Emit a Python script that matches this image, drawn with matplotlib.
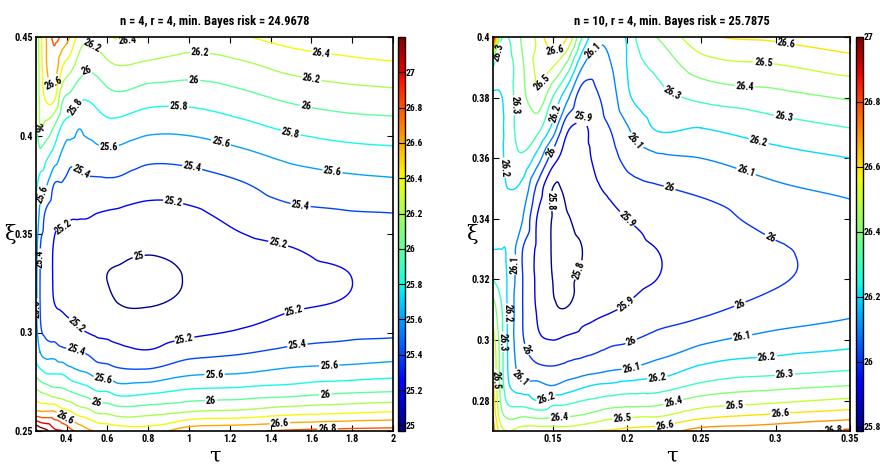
import os
import dataclasses
import numpy as np
import matplotlib
matplotlib.use('Agg')
import matplotlib.pyplot as plt
import matplotlib.tri as mtri
from matplotlib import cm, colors
from matplotlib import font_manager as fm
from matplotlib.path import Path

# narrowest bold sans face that is installed (the reference uses a condensed bold font)
def pick_condensed():
    files = {os.path.splitext(os.path.basename(f.fname))[0]: f for f in fm.fontManager.ttflist}
    for key, scale in [('NotoSans-ExtraCondensedBold', 1.0), ('NotoSans-CondensedBold', 0.88),
                       ('RobotoCondensed-Bold', 0.9), ('LiberationSansNarrow-Bold', 0.88),
                       ('NotoSans-SemiCondensedBold', 0.82)]:
        if key in files:
            fm.fontManager.ttflist.append(dataclasses.replace(files[key], name='PlotCondensed'))
            return 'PlotCondensed', scale
    return 'DejaVu Sans', 0.75

fam, fs = pick_condensed()
plt.rcParams['font.family'] = [fam, 'DejaVu Sans']
plt.rcParams['font.weight'] = 'bold'
plt.rcParams['axes.linewidth'] = 1.2

# ---- left panel: n = 4, r = 4 ----
tau_a = [0.25, 0.27, 0.30, 0.34, 0.38, 0.42, 0.46, 0.50, 0.55, 0.60, 0.65, 0.80, 1.00, 1.25, 1.50, 1.75, 2.00]
xi_a = [0.25, 0.26, 0.27, 0.28, 0.29, 0.30, 0.315, 0.33, 0.345, 0.36, 0.375, 0.39, 0.405, 0.42, 0.435, 0.45]
# one list per tau value, risk along xi (bottom -> top)
risk_a = [
    [27.45, 26.62, 26.25, 25.92, 25.75, 25.68, 25.66, 25.66, 25.70, 25.78, 25.85, 25.93, 25.97, 25.98, 25.98, 25.98],
    [27.35, 26.60, 26.20, 25.85, 25.60, 25.45, 25.40, 25.40, 25.42, 25.55, 25.70, 25.95, 26.20, 26.25, 26.28, 26.30],
    [27.25, 26.60, 26.15, 25.78, 25.52, 25.36, 25.31, 25.30, 25.31, 25.36, 25.62, 25.85, 26.15, 26.45, 26.58, 26.60],
    [27.05, 26.60, 26.08, 25.77, 25.52, 25.32, 25.20, 25.18, 25.19, 25.26, 25.39, 25.72, 26.00, 26.45, 26.72, 26.85],
    [27.00, 26.47, 26.06, 25.76, 25.45, 25.30, 25.17, 25.13, 25.16, 25.25, 25.38, 25.56, 25.78, 26.05, 26.40, 26.75],
    [26.85, 26.40, 26.00, 25.67, 25.45, 25.27, 25.14, 25.09, 25.13, 25.22, 25.32, 25.47, 25.72, 25.96, 26.26, 26.58],
    [26.75, 26.30, 25.95, 25.62, 25.41, 25.23, 25.11, 25.07, 25.11, 25.22, 25.34, 25.47, 25.62, 25.85, 26.11, 26.32],
    [26.65, 26.26, 25.90, 25.59, 25.38, 25.20, 25.09, 25.05, 25.09, 25.22, 25.35, 25.50, 25.67, 25.83, 26.03, 26.24],
    [26.58, 26.16, 25.81, 25.51, 25.31, 25.17, 25.06, 25.03, 25.09, 25.195, 25.35, 25.54, 25.705, 25.875, 26.07, 26.30],
    [26.55, 26.15, 25.80, 25.49, 25.295, 25.16, 25.04, 25.00, 25.06, 25.18, 25.356, 25.546, 25.744, 25.94, 26.15, 26.37],
    [26.52, 26.10, 25.73, 25.45, 25.26, 25.14, 25.00, 24.985, 25.07, 25.17, 25.35, 25.536, 25.74, 25.966, 26.19, 26.42],
    [26.50, 26.12, 25.76, 25.44, 25.22, 25.10, 24.99, 24.97, 25.03, 25.14, 25.28, 25.46, 25.67, 25.89, 26.15, 26.39],
    [26.72, 26.19, 25.84, 25.55, 25.33, 25.16, 25.03, 25.01, 25.04, 25.16, 25.30, 25.47, 25.67, 25.88, 26.10, 26.31],
    [26.77, 26.23, 25.87, 25.58, 25.38, 25.22, 25.12, 25.10, 25.16, 25.27, 25.38, 25.55, 25.75, 25.95, 26.15, 26.38],
    [26.83, 26.31, 25.91, 25.65, 25.45, 25.31, 25.17, 25.145, 25.21, 25.35, 25.49, 25.65, 25.85, 26.05, 26.26, 26.48],
    [26.86, 26.35, 25.97, 25.68, 25.48, 25.35, 25.21, 25.19, 25.28, 25.38, 25.53, 25.71, 25.91, 26.11, 26.32, 26.53],
    [26.88, 26.39, 26.00, 25.72, 25.51, 25.37, 25.29, 25.27, 25.31, 25.395, 25.556, 25.74, 25.935, 26.14, 26.36, 26.58],
]
min_a = 24.9678

# ---- right panel: n = 10, r = 4 ----
tau_b = [0.11, 0.115, 0.12, 0.13, 0.14, 0.15, 0.16, 0.17, 0.18, 0.19, 0.20, 0.21, 0.22, 0.25, 0.30, 0.35]
xi_b = [0.27, 0.275, 0.28, 0.285, 0.29, 0.30, 0.31, 0.32, 0.33, 0.34, 0.35, 0.36, 0.37, 0.38, 0.39, 0.40]
risk_b = [
    [26.75, 26.70, 26.66, 26.63, 26.60, 26.55, 26.45, 26.30, 26.20, 26.17, 26.16, 26.15, 26.16, 26.18, 26.30, 26.95],
    [26.55, 26.45, 26.40, 26.38, 26.37, 26.36, 26.33, 26.25, 26.20, 26.18, 26.17, 26.17, 26.17, 26.19, 26.26, 26.35],
    [26.50, 26.38, 26.28, 26.22, 26.20, 26.19, 26.19, 26.19, 26.19, 26.195, 26.20, 26.24, 26.25, 26.25, 26.26, 26.30],
    [26.55, 26.39, 26.25, 26.14, 26.06, 26.01, 26.00, 26.00, 26.00, 26.10, 26.17, 26.28, 26.34, 26.37, 26.39, 26.42],
    [26.56, 26.37, 26.20, 26.13, 26.03, 25.92, 25.89, 25.88, 25.88, 25.89, 25.97, 26.15, 26.33, 26.47, 26.52, 26.52],
    [26.56, 26.38, 26.26, 26.10, 26.02, 25.90, 25.815, 25.80, 25.795, 25.797, 25.80, 25.95, 26.17, 26.30, 26.50, 26.70],
    [26.55, 26.39, 26.27, 26.14, 26.04, 25.92, 25.805, 25.795, 25.79, 25.797, 25.82, 25.86, 25.92, 26.12, 26.35, 26.60],
    [26.57, 26.41, 26.30, 26.18, 26.06, 25.94, 25.86, 25.81, 25.80, 25.82, 25.84, 25.86, 25.88, 25.94, 26.10, 26.30],
    [26.60, 26.44, 26.32, 26.21, 26.08, 25.96, 25.88, 25.845, 25.84, 25.86, 25.89, 25.93, 25.96, 25.99, 26.05, 26.13],
    [26.61, 26.47, 26.34, 26.22, 26.10, 25.98, 25.895, 25.86, 25.855, 25.88, 25.92, 25.97, 26.01, 26.06, 26.10, 26.14],
    [26.63, 26.48, 26.35, 26.24, 26.11, 25.99, 25.91, 25.875, 25.87, 25.90, 25.96, 26.03, 26.09, 26.18, 26.20, 26.21],
    [26.64, 26.49, 26.35, 26.25, 26.13, 26.01, 25.93, 25.89, 25.885, 25.92, 25.98, 26.06, 26.16, 26.23, 26.28, 26.36],
    [26.65, 26.49, 26.36, 26.25, 26.15, 26.03, 25.95, 25.90, 25.90, 25.95, 25.99, 26.08, 26.21, 26.26, 26.32, 26.40],
    [26.74, 26.57, 26.44, 26.32, 26.23, 26.08, 25.98, 25.95, 25.94, 25.96, 26.02, 26.10, 26.20, 26.32, 26.445, 26.57],
    [26.77, 26.62, 26.48, 26.37, 26.27, 26.136, 26.04, 25.99, 25.99, 26.037, 26.084, 26.16, 26.257, 26.365, 26.486, 26.62],
    [26.82, 26.66, 26.52, 26.40, 26.30, 26.167, 26.08, 26.04, 26.03, 26.07, 26.12, 26.20, 26.30, 26.41, 26.54, 26.67],
]
min_b = 25.7875


def smooth_field(tau, xi, risk):
    T, X = np.meshgrid(tau, xi)
    Z = np.array(risk).T.ravel()
    t0, t1, x0, x1 = tau[0], tau[-1], xi[0], xi[-1]
    tri = mtri.Triangulation((T.ravel() - t0) / (t1 - t0), (X.ravel() - x0) / (x1 - x0))
    interp = mtri.CubicTriInterpolator(tri, Z, kind='geom')
    tri_f, z_f = mtri.UniformTriRefiner(tri).refine_field(Z, triinterpolator=interp, subdiv=4)
    tri_d = mtri.Triangulation(t0 + tri_f.x * (t1 - t0), x0 + tri_f.y * (x1 - x0), tri_f.triangles)
    return tri_d, z_f


def label_spots(ax, cs, spacing=115, min_len=30, min_gap=24):
    # spread labels along every contour line, like matlab's clabel spacing
    spots, placed = [], []
    for path in cs.get_paths():
        v, c = path.vertices, path.codes
        if len(v) == 0:
            continue
        parts = [v] if c is None else np.split(v, np.flatnonzero(c == Path.MOVETO)[1:])
        for seg in parts:
            if len(seg) < 2:
                continue
            p = ax.transData.transform(seg)
            d = np.r_[0, np.cumsum(np.hypot(*np.diff(p, axis=0).T))]
            if d[-1] < min_len:
                continue
            n = max(1, int(d[-1] // spacing))
            start = (d[-1] - (n - 1) * spacing) / 2
            for k in range(n):
                i = min(np.searchsorted(d, start + k * spacing), len(seg) - 1)
                if all(np.hypot(*(p[i] - q)) > min_gap for q in placed):
                    placed.append(p[i])
                    spots.append(tuple(seg[i]))
    return spots


def panel(ax, cax, tau, xi, risk, levels, vmin, vmax, title, xticks, yticks, cticks, ylab_x):
    tri, z = smooth_field(tau, xi, risk)
    norm = colors.Normalize(vmin, vmax)
    ax.set_xlim(tau[0], tau[-1])
    ax.set_ylim(xi[0], xi[-1])
    cs = ax.tricontour(tri, z, levels=levels, cmap='jet', norm=norm, linewidths=1.0)
    ax.clabel(cs, fmt='%g', fontsize=8 * fs, colors='k', inline=True, inline_spacing=1,
              manual=label_spots(ax, cs))
    ax.set_xticks(xticks)
    ax.set_yticks(yticks)
    ax.set_xticklabels(['%g' % t for t in xticks])
    ax.set_yticklabels(['%g' % t for t in yticks])
    ax.tick_params(direction='in', top=True, right=True, length=4, labelsize=8.2 * fs, pad=2)
    ax.set_title(title, fontsize=10 * fs, fontweight='bold', pad=9)
    ax.set_xlabel('τ', fontsize=15, family='DejaVu Serif', fontweight='normal', labelpad=2)
    ax.set_ylabel('ξ', fontsize=15, family='DejaVu Serif', fontweight='normal', rotation=0,
                  va='center', ha='center')
    ax.yaxis.set_label_coords(ylab_x, 0.5)
    sm = cm.ScalarMappable(norm=norm, cmap='jet')
    cb = plt.colorbar(sm, cax=cax, ticks=cticks)
    cb.ax.set_yticklabels(['%g' % t for t in cticks])
    cb.ax.tick_params(direction='in', left=True, right=True, length=3, labelsize=7.6 * fs, pad=0.5)
    cb.outline.set_linewidth(1.0)


fig = plt.figure(figsize=(8.8, 4.74), dpi=100)
ax1 = fig.add_axes([36 / 880, 43 / 474, 357 / 880, 394 / 474])
cax1 = fig.add_axes([398 / 880, 43 / 474, 7 / 880, 394 / 474])
ax2 = fig.add_axes([493 / 880, 43 / 474, 357 / 880, 394 / 474])
cax2 = fig.add_axes([856 / 880, 43 / 474, 7 / 880, 394 / 474])

za = np.array(risk_a)
panel(ax1, cax1, tau_a, xi_a, risk_a, np.arange(25.0, 27.41, 0.2), min_a, za.max() - 0.25,
      'n = 4, r = 4, min. Bayes risk = %.4f' % min_a,
      [0.4, 0.6, 0.8, 1, 1.2, 1.4, 1.6, 1.8, 2], [0.25, 0.3, 0.35, 0.4, 0.45],
      np.arange(25.0, 27.01, 0.2).round(1), -0.073)
panel(ax2, cax2, tau_b, xi_b, risk_b, np.arange(25.8, 27.01, 0.1).round(1), min_b, 27.0,
      'n = 10, r = 4, min. Bayes risk = %.4f' % min_b,
      [0.15, 0.2, 0.25, 0.3, 0.35], [0.28, 0.3, 0.32, 0.34, 0.36, 0.38, 0.4],
      np.arange(25.8, 27.01, 0.2).round(1), -0.06)

fig.savefig('out.png', dpi=100)
